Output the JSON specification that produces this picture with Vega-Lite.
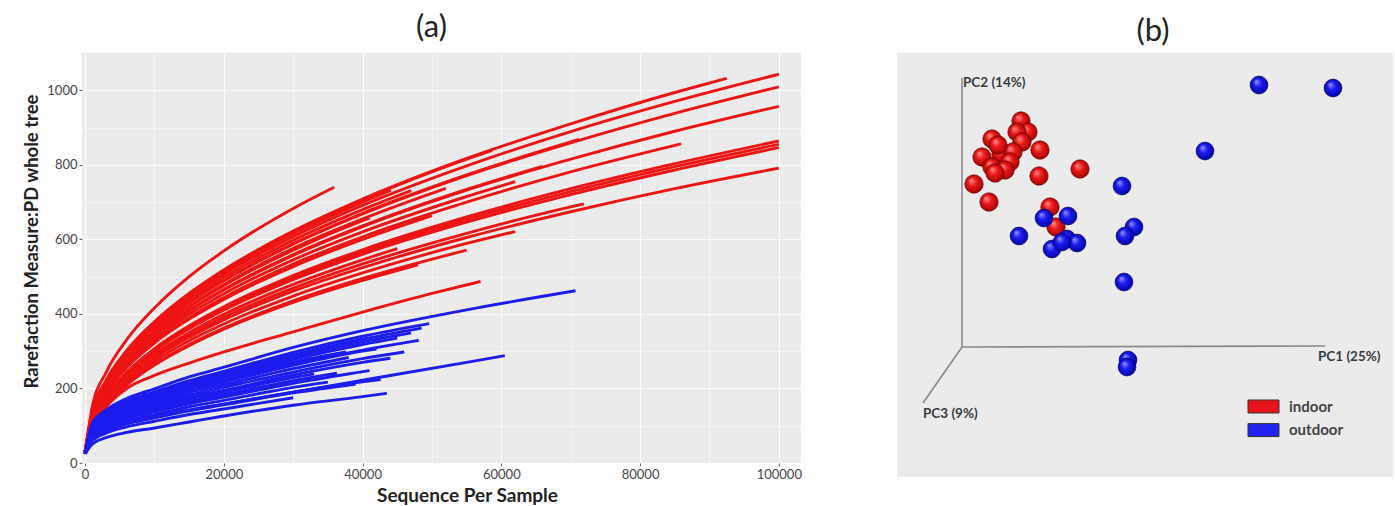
{
  "$schema": "https://vega.github.io/schema/vega-lite/v6.json",
  "padding": {"left": 22, "top": 12, "right": 0, "bottom": 0},
  "spacing": 95,
  "config": {"view": {"stroke": null, "fill": "#EBEBEB"}, "font": "Lato"},
  "resolve": {"scale": {"color": "independent"}, "legend": {"color": "independent"}},
  "datasets": {
    "indoor_curves": [
      {"s":"r01","x":0,"y":30},{"s":"r01","x":1000,"y":148},{"s":"r01","x":3000,"y":242},{"s":"r01","x":6000,"y":331},{"s":"r01","x":10000,"y":416},{"s":"r01","x":15000,"y":500},{"s":"r01","x":20000,"y":569},{"s":"r01","x":30000,"y":683},{"s":"r01","x":35900,"y":740},
      {"s":"r02","x":0,"y":30},{"s":"r02","x":1000,"y":131},{"s":"r02","x":3000,"y":216},{"s":"r02","x":6000,"y":294},{"s":"r02","x":10000,"y":370},{"s":"r02","x":15000,"y":444},{"s":"r02","x":20000,"y":506},{"s":"r02","x":30000,"y":607},{"s":"r02","x":40000,"y":691},{"s":"r02","x":55000,"y":797},{"s":"r02","x":70000,"y":889},{"s":"r02","x":85000,"y":970},{"s":"r02","x":100000,"y":1043},
      {"s":"r03","x":0,"y":30},{"s":"r03","x":1000,"y":127},{"s":"r03","x":3000,"y":208},{"s":"r03","x":6000,"y":285},{"s":"r03","x":10000,"y":358},{"s":"r03","x":15000,"y":430},{"s":"r03","x":20000,"y":489},{"s":"r03","x":30000,"y":587},{"s":"r03","x":40000,"y":668},{"s":"r03","x":55000,"y":771},{"s":"r03","x":70000,"y":859},{"s":"r03","x":85000,"y":938},{"s":"r03","x":100000,"y":1009},
      {"s":"r04","x":0,"y":30},{"s":"r04","x":1000,"y":120},{"s":"r04","x":3000,"y":198},{"s":"r04","x":6000,"y":270},{"s":"r04","x":10000,"y":340},{"s":"r04","x":15000,"y":408},{"s":"r04","x":20000,"y":464},{"s":"r04","x":30000,"y":557},{"s":"r04","x":40000,"y":634},{"s":"r04","x":55000,"y":732},{"s":"r04","x":70000,"y":815},{"s":"r04","x":85000,"y":890},{"s":"r04","x":100000,"y":957},
      {"s":"r05","x":0,"y":30},{"s":"r05","x":1000,"y":135},{"s":"r05","x":3000,"y":221},{"s":"r05","x":6000,"y":302},{"s":"r05","x":10000,"y":379},{"s":"r05","x":15000,"y":455},{"s":"r05","x":20000,"y":518},{"s":"r05","x":30000,"y":622},{"s":"r05","x":40000,"y":708},{"s":"r05","x":55000,"y":817},{"s":"r05","x":70000,"y":910},{"s":"r05","x":85000,"y":994},{"s":"r05","x":92500,"y":1032},
      {"s":"r06","x":0,"y":30},{"s":"r06","x":1000,"y":115},{"s":"r06","x":3000,"y":189},{"s":"r06","x":6000,"y":259},{"s":"r06","x":10000,"y":325},{"s":"r06","x":15000,"y":390},{"s":"r06","x":20000,"y":444},{"s":"r06","x":30000,"y":534},{"s":"r06","x":40000,"y":607},{"s":"r06","x":55000,"y":700},{"s":"r06","x":70000,"y":781},{"s":"r06","x":85900,"y":856},
      {"s":"r07","x":0,"y":30},{"s":"r07","x":1000,"y":127},{"s":"r07","x":3000,"y":209},{"s":"r07","x":6000,"y":285},{"s":"r07","x":10000,"y":359},{"s":"r07","x":15000,"y":431},{"s":"r07","x":20000,"y":490},{"s":"r07","x":30000,"y":589},{"s":"r07","x":40000,"y":670},{"s":"r07","x":55000,"y":773},{"s":"r07","x":71200,"y":868},
      {"s":"r08","x":0,"y":30},{"s":"r08","x":1000,"y":121},{"s":"r08","x":3000,"y":198},{"s":"r08","x":6000,"y":271},{"s":"r08","x":10000,"y":341},{"s":"r08","x":15000,"y":409},{"s":"r08","x":20000,"y":466},{"s":"r08","x":30000,"y":559},{"s":"r08","x":40000,"y":636},{"s":"r08","x":55000,"y":734},{"s":"r08","x":65900,"y":796},
      {"s":"r09","x":0,"y":30},{"s":"r09","x":1000,"y":134},{"s":"r09","x":3000,"y":220},{"s":"r09","x":6000,"y":301},{"s":"r09","x":10000,"y":378},{"s":"r09","x":15000,"y":454},{"s":"r09","x":20000,"y":517},{"s":"r09","x":30000,"y":621},{"s":"r09","x":40000,"y":706},{"s":"r09","x":55000,"y":815},{"s":"r09","x":58700,"y":839},
      {"s":"r10","x":0,"y":30},{"s":"r10","x":1000,"y":133},{"s":"r10","x":3000,"y":218},{"s":"r10","x":6000,"y":298},{"s":"r10","x":10000,"y":375},{"s":"r10","x":15000,"y":450},{"s":"r10","x":20000,"y":512},{"s":"r10","x":30000,"y":615},{"s":"r10","x":40000,"y":700},{"s":"r10","x":44100,"y":732},
      {"s":"r11","x":0,"y":30},{"s":"r11","x":1000,"y":129},{"s":"r11","x":3000,"y":212},{"s":"r11","x":6000,"y":290},{"s":"r11","x":10000,"y":364},{"s":"r11","x":15000,"y":437},{"s":"r11","x":20000,"y":498},{"s":"r11","x":30000,"y":598},{"s":"r11","x":40000,"y":680},{"s":"r11","x":47000,"y":731},
      {"s":"r12","x":0,"y":30},{"s":"r12","x":1000,"y":124},{"s":"r12","x":3000,"y":204},{"s":"r12","x":6000,"y":279},{"s":"r12","x":10000,"y":351},{"s":"r12","x":15000,"y":421},{"s":"r12","x":20000,"y":479},{"s":"r12","x":30000,"y":576},{"s":"r12","x":40000,"y":655},{"s":"r12","x":52000,"y":737},
      {"s":"r13","x":0,"y":30},{"s":"r13","x":1000,"y":118},{"s":"r13","x":3000,"y":193},{"s":"r13","x":6000,"y":264},{"s":"r13","x":10000,"y":332},{"s":"r13","x":15000,"y":399},{"s":"r13","x":20000,"y":454},{"s":"r13","x":30000,"y":545},{"s":"r13","x":40000,"y":620},{"s":"r13","x":55000,"y":715},{"s":"r13","x":62000,"y":755},
      {"s":"r14","x":0,"y":30},{"s":"r14","x":1000,"y":124},{"s":"r14","x":3000,"y":203},{"s":"r14","x":6000,"y":277},{"s":"r14","x":10000,"y":348},{"s":"r14","x":15000,"y":418},{"s":"r14","x":20000,"y":476},{"s":"r14","x":30000,"y":571},{"s":"r14","x":40000,"y":650},{"s":"r14","x":41000,"y":657},
      {"s":"r15","x":0,"y":30},{"s":"r15","x":1000,"y":114},{"s":"r15","x":3000,"y":187},{"s":"r15","x":6000,"y":256},{"s":"r15","x":10000,"y":322},{"s":"r15","x":15000,"y":386},{"s":"r15","x":20000,"y":439},{"s":"r15","x":30000,"y":527},{"s":"r15","x":40000,"y":600},{"s":"r15","x":50000,"y":664},
      {"s":"r16","x":0,"y":30},{"s":"r16","x":1000,"y":108},{"s":"r16","x":3000,"y":177},{"s":"r16","x":6000,"y":241},{"s":"r16","x":10000,"y":303},{"s":"r16","x":15000,"y":364},{"s":"r16","x":20000,"y":414},{"s":"r16","x":30000,"y":498},{"s":"r16","x":40000,"y":566},{"s":"r16","x":55000,"y":653},{"s":"r16","x":70000,"y":728},{"s":"r16","x":85000,"y":795},{"s":"r16","x":100000,"y":855},
      {"s":"r17","x":0,"y":30},{"s":"r17","x":1000,"y":106},{"s":"r17","x":3000,"y":175},{"s":"r17","x":6000,"y":239},{"s":"r17","x":10000,"y":300},{"s":"r17","x":15000,"y":360},{"s":"r17","x":20000,"y":410},{"s":"r17","x":30000,"y":492},{"s":"r17","x":40000,"y":560},{"s":"r17","x":55000,"y":646},{"s":"r17","x":70000,"y":720},{"s":"r17","x":85000,"y":786},{"s":"r17","x":100000,"y":846},
      {"s":"r18","x":0,"y":30},{"s":"r18","x":1000,"y":109},{"s":"r18","x":3000,"y":178},{"s":"r18","x":6000,"y":244},{"s":"r18","x":10000,"y":307},{"s":"r18","x":15000,"y":368},{"s":"r18","x":20000,"y":419},{"s":"r18","x":30000,"y":503},{"s":"r18","x":40000,"y":572},{"s":"r18","x":55000,"y":660},{"s":"r18","x":70000,"y":736},{"s":"r18","x":85000,"y":803},{"s":"r18","x":100000,"y":864},
      {"s":"r19","x":0,"y":30},{"s":"r19","x":1000,"y":100},{"s":"r19","x":3000,"y":163},{"s":"r19","x":6000,"y":223},{"s":"r19","x":10000,"y":281},{"s":"r19","x":15000,"y":337},{"s":"r19","x":20000,"y":384},{"s":"r19","x":30000,"y":461},{"s":"r19","x":40000,"y":524},{"s":"r19","x":55000,"y":605},{"s":"r19","x":70000,"y":674},{"s":"r19","x":85000,"y":736},{"s":"r19","x":100000,"y":791},
      {"s":"r20","x":0,"y":30},{"s":"r20","x":1000,"y":101},{"s":"r20","x":3000,"y":167},{"s":"r20","x":6000,"y":227},{"s":"r20","x":10000,"y":286},{"s":"r20","x":15000,"y":343},{"s":"r20","x":20000,"y":391},{"s":"r20","x":30000,"y":469},{"s":"r20","x":40000,"y":534},{"s":"r20","x":55000,"y":616},{"s":"r20","x":70000,"y":687},{"s":"r20","x":71900,"y":695},
      {"s":"r21","x":0,"y":30},{"s":"r21","x":1000,"y":94},{"s":"r21","x":3000,"y":154},{"s":"r21","x":6000,"y":211},{"s":"r21","x":10000,"y":265},{"s":"r21","x":15000,"y":318},{"s":"r21","x":20000,"y":362},{"s":"r21","x":30000,"y":435},{"s":"r21","x":40000,"y":495},{"s":"r21","x":55000,"y":571},
      {"s":"r22","x":0,"y":30},{"s":"r22","x":1000,"y":97},{"s":"r22","x":3000,"y":159},{"s":"r22","x":6000,"y":217},{"s":"r22","x":10000,"y":273},{"s":"r22","x":15000,"y":328},{"s":"r22","x":20000,"y":373},{"s":"r22","x":30000,"y":448},{"s":"r22","x":40000,"y":510},{"s":"r22","x":55000,"y":589},{"s":"r22","x":62000,"y":621},
      {"s":"r23","x":0,"y":30},{"s":"r23","x":1000,"y":93},{"s":"r23","x":3000,"y":153},{"s":"r23","x":6000,"y":209},{"s":"r23","x":10000,"y":263},{"s":"r23","x":15000,"y":315},{"s":"r23","x":20000,"y":359},{"s":"r23","x":30000,"y":431},{"s":"r23","x":40000,"y":490},{"s":"r23","x":48000,"y":532},
      {"s":"r24","x":0,"y":30},{"s":"r24","x":1000,"y":104},{"s":"r24","x":3000,"y":170},{"s":"r24","x":6000,"y":232},{"s":"r24","x":10000,"y":292},{"s":"r24","x":15000,"y":350},{"s":"r24","x":20000,"y":399},{"s":"r24","x":30000,"y":479},{"s":"r24","x":40000,"y":545},{"s":"r24","x":45000,"y":575},
      {"s":"r25","x":0,"y":30},{"s":"r25","x":1000,"y":95},{"s":"r25","x":3000,"y":150},{"s":"r25","x":6000,"y":200},{"s":"r25","x":10000,"y":235},{"s":"r25","x":15000,"y":268},{"s":"r25","x":20000,"y":298},{"s":"r25","x":30000,"y":352},{"s":"r25","x":40000,"y":405},{"s":"r25","x":50000,"y":455},{"s":"r25","x":57000,"y":487}
    ],
    "outdoor_curves": [
      {"s":"b01","x":0,"y":25},{"s":"b01","x":1000,"y":105},{"s":"b01","x":3000,"y":142},{"s":"b01","x":6000,"y":173},{"s":"b01","x":10000,"y":199},{"s":"b01","x":15000,"y":231},{"s":"b01","x":20000,"y":257},{"s":"b01","x":30000,"y":310},{"s":"b01","x":40000,"y":355},{"s":"b01","x":55000,"y":411},{"s":"b01","x":70700,"y":462},
      {"s":"b02","x":0,"y":25},{"s":"b02","x":1000,"y":101},{"s":"b02","x":3000,"y":136},{"s":"b02","x":6000,"y":166},{"s":"b02","x":10000,"y":191},{"s":"b02","x":15000,"y":221},{"s":"b02","x":20000,"y":246},{"s":"b02","x":30000,"y":297},{"s":"b02","x":40000,"y":340},{"s":"b02","x":49600,"y":374},
      {"s":"b03","x":0,"y":25},{"s":"b03","x":1000,"y":98},{"s":"b03","x":3000,"y":133},{"s":"b03","x":6000,"y":162},{"s":"b03","x":10000,"y":186},{"s":"b03","x":15000,"y":216},{"s":"b03","x":20000,"y":240},{"s":"b03","x":30000,"y":290},{"s":"b03","x":40000,"y":332},{"s":"b03","x":48500,"y":362},
      {"s":"b04","x":0,"y":25},{"s":"b04","x":1000,"y":96},{"s":"b04","x":3000,"y":130},{"s":"b04","x":6000,"y":158},{"s":"b04","x":10000,"y":182},{"s":"b04","x":15000,"y":212},{"s":"b04","x":20000,"y":235},{"s":"b04","x":30000,"y":284},{"s":"b04","x":40000,"y":325},{"s":"b04","x":47000,"y":349},
      {"s":"b05","x":0,"y":25},{"s":"b05","x":1000,"y":94},{"s":"b05","x":3000,"y":127},{"s":"b05","x":6000,"y":155},{"s":"b05","x":10000,"y":178},{"s":"b05","x":15000,"y":207},{"s":"b05","x":20000,"y":230},{"s":"b05","x":30000,"y":278},{"s":"b05","x":40000,"y":318},{"s":"b05","x":45000,"y":335},
      {"s":"b06","x":0,"y":25},{"s":"b06","x":1000,"y":90},{"s":"b06","x":3000,"y":121},{"s":"b06","x":6000,"y":148},{"s":"b06","x":10000,"y":170},{"s":"b06","x":15000,"y":197},{"s":"b06","x":20000,"y":219},{"s":"b06","x":30000,"y":265},{"s":"b06","x":40000,"y":303},{"s":"b06","x":48100,"y":329},
      {"s":"b07","x":0,"y":25},{"s":"b07","x":1000,"y":83},{"s":"b07","x":3000,"y":112},{"s":"b07","x":6000,"y":136},{"s":"b07","x":10000,"y":157},{"s":"b07","x":15000,"y":182},{"s":"b07","x":20000,"y":203},{"s":"b07","x":30000,"y":244},{"s":"b07","x":40000,"y":280},{"s":"b07","x":46000,"y":298},
      {"s":"b08","x":0,"y":25},{"s":"b08","x":1000,"y":92},{"s":"b08","x":3000,"y":124},{"s":"b08","x":6000,"y":151},{"s":"b08","x":10000,"y":174},{"s":"b08","x":15000,"y":202},{"s":"b08","x":20000,"y":224},{"s":"b08","x":30000,"y":271},{"s":"b08","x":37600,"y":298},
      {"s":"b09","x":0,"y":25},{"s":"b09","x":1000,"y":75},{"s":"b09","x":3000,"y":101},{"s":"b09","x":6000,"y":123},{"s":"b09","x":10000,"y":142},{"s":"b09","x":15000,"y":165},{"s":"b09","x":20000,"y":183},{"s":"b09","x":30000,"y":221},{"s":"b09","x":36300,"y":241},
      {"s":"b10","x":0,"y":25},{"s":"b10","x":1000,"y":65},{"s":"b10","x":3000,"y":87},{"s":"b10","x":6000,"y":106},{"s":"b10","x":10000,"y":122},{"s":"b10","x":15000,"y":142},{"s":"b10","x":20000,"y":158},{"s":"b10","x":30000,"y":190},{"s":"b10","x":40000,"y":218},{"s":"b10","x":42600,"y":224},
      {"s":"b11","x":0,"y":25},{"s":"b11","x":1000,"y":50},{"s":"b11","x":3000,"y":68},{"s":"b11","x":6000,"y":82},{"s":"b11","x":10000,"y":94},{"s":"b11","x":15000,"y":110},{"s":"b11","x":20000,"y":126},{"s":"b11","x":30000,"y":155},{"s":"b11","x":40000,"y":178},{"s":"b11","x":43500,"y":187},
      {"s":"b12","x":0,"y":25},{"s":"b12","x":1000,"y":62},{"s":"b12","x":3000,"y":88},{"s":"b12","x":6000,"y":108},{"s":"b12","x":10000,"y":125},{"s":"b12","x":15000,"y":142},{"s":"b12","x":20000,"y":158},{"s":"b12","x":30000,"y":190},{"s":"b12","x":40000,"y":222},{"s":"b12","x":55000,"y":270},{"s":"b12","x":60500,"y":288},
      {"s":"b13","x":0,"y":25},{"s":"b13","x":1000,"y":86},{"s":"b13","x":3000,"y":116},{"s":"b13","x":6000,"y":141},{"s":"b13","x":10000,"y":163},{"s":"b13","x":15000,"y":189},{"s":"b13","x":20000,"y":210},{"s":"b13","x":30000,"y":253},{"s":"b13","x":38000,"y":283},
      {"s":"b14","x":0,"y":25},{"s":"b14","x":1000,"y":80},{"s":"b14","x":3000,"y":108},{"s":"b14","x":6000,"y":131},{"s":"b14","x":10000,"y":151},{"s":"b14","x":15000,"y":176},{"s":"b14","x":20000,"y":195},{"s":"b14","x":30000,"y":236},{"s":"b14","x":40000,"y":270},{"s":"b14","x":44000,"y":281},
      {"s":"b15","x":0,"y":25},{"s":"b15","x":1000,"y":78},{"s":"b15","x":3000,"y":105},{"s":"b15","x":6000,"y":128},{"s":"b15","x":10000,"y":147},{"s":"b15","x":15000,"y":171},{"s":"b15","x":20000,"y":190},{"s":"b15","x":30000,"y":229},{"s":"b15","x":33000,"y":239},
      {"s":"b16","x":0,"y":25},{"s":"b16","x":1000,"y":73},{"s":"b16","x":3000,"y":98},{"s":"b16","x":6000,"y":119},{"s":"b16","x":10000,"y":137},{"s":"b16","x":15000,"y":159},{"s":"b16","x":20000,"y":177},{"s":"b16","x":30000,"y":214},{"s":"b16","x":40000,"y":245},{"s":"b16","x":41000,"y":248},
      {"s":"b17","x":0,"y":25},{"s":"b17","x":1000,"y":69},{"s":"b17","x":3000,"y":93},{"s":"b17","x":6000,"y":113},{"s":"b17","x":10000,"y":130},{"s":"b17","x":15000,"y":151},{"s":"b17","x":20000,"y":168},{"s":"b17","x":30000,"y":203},{"s":"b17","x":35000,"y":217},
      {"s":"b18","x":0,"y":25},{"s":"b18","x":1000,"y":59},{"s":"b18","x":3000,"y":80},{"s":"b18","x":6000,"y":97},{"s":"b18","x":10000,"y":112},{"s":"b18","x":15000,"y":130},{"s":"b18","x":20000,"y":145},{"s":"b18","x":30000,"y":175},
      {"s":"b19","x":0,"y":25},{"s":"b19","x":1000,"y":64},{"s":"b19","x":3000,"y":86},{"s":"b19","x":6000,"y":105},{"s":"b19","x":10000,"y":121},{"s":"b19","x":15000,"y":140},{"s":"b19","x":20000,"y":156},{"s":"b19","x":30000,"y":188},{"s":"b19","x":39000,"y":212},
      {"s":"b20","x":0,"y":25},{"s":"b20","x":1000,"y":89},{"s":"b20","x":3000,"y":120},{"s":"b20","x":6000,"y":146},{"s":"b20","x":10000,"y":168},{"s":"b20","x":15000,"y":195},{"s":"b20","x":20000,"y":217},{"s":"b20","x":30000,"y":262},{"s":"b20","x":40000,"y":300},{"s":"b20","x":42000,"y":306}
    ],
    "pcoa": [
      {"g":"indoor","u":124,"v":356},{"g":"indoor","u":131,"v":345},{"g":"indoor","u":120,"v":345},{"g":"indoor","u":95,"v":338},{"g":"indoor","u":125,"v":335},{"g":"indoor","u":143,"v":327},{"g":"indoor","u":85,"v":320},{"g":"indoor","u":104,"v":323},{"g":"indoor","u":116,"v":325},{"g":"indoor","u":113,"v":315},{"g":"indoor","u":95,"v":310},{"g":"indoor","u":108,"v":307},{"g":"indoor","u":98,"v":304},{"g":"indoor","u":142,"v":301},{"g":"indoor","u":183,"v":308},{"g":"indoor","u":77,"v":293},{"g":"indoor","u":92,"v":275},{"g":"indoor","u":153,"v":270},{"g":"indoor","u":159,"v":250},{"g":"indoor","u":101,"v":332},
      {"g":"outdoor","u":362,"v":392},{"g":"outdoor","u":436,"v":389},{"g":"outdoor","u":308,"v":326},{"g":"outdoor","u":225,"v":291},{"g":"outdoor","u":237,"v":250},{"g":"outdoor","u":228,"v":241},{"g":"outdoor","u":227,"v":195},{"g":"outdoor","u":231,"v":117},{"g":"outdoor","u":230,"v":110},{"g":"outdoor","u":171,"v":261},{"g":"outdoor","u":147,"v":259},{"g":"outdoor","u":122,"v":241},{"g":"outdoor","u":155,"v":228},{"g":"outdoor","u":170,"v":238},{"g":"outdoor","u":180,"v":234},{"g":"outdoor","u":165,"v":235}
    ],
    "axes3d": [
      {"axis":"PC2","u":65,"v":130,"u2":65,"v2":399},
      {"axis":"PC1","u":65,"v":130,"u2":428,"v2":131},
      {"axis":"PC3","u":65,"v":130,"u2":26,"v2":74}
    ],
    "axislabels": [
      {"t":"PC2 (14%)","u":66,"v":394},
      {"t":"PC1 (25%)","u":421,"v":120},
      {"t":"PC3 (9%)","u":26,"v":63}
    ]
  },
  "hconcat": [
    {
      "width": 719,
      "height": 410,
      "title": {"text": "(a)", "fontSize": 31, "fontWeight": "normal", "font": "Lato", "color": "#222222", "anchor": "middle", "frame": "group", "offset": 9, "dx": -10},
      "encoding": {
        "x": {"field": "x", "type": "quantitative",
          "scale": {"domain": [-450, 103200], "nice": false, "zero": false},
          "axis": {"title": "Sequence Per Sample", "values": [0,10000,20000,30000,40000,50000,60000,70000,80000,90000,100000],
            "format": "d", "labelExpr": "datum.value % 20000 === 0 ? datum.label : ''",
            "domain": false, "grid": true, "gridColor": "#ffffff",
            "gridOpacity": {"condition": {"test": "datum.value % 20000 === 0", "value": 0.9}, "value": 0.45},
            "tickSize": 3, "tickColor": "#666666",
            "tickOpacity": {"condition": {"test": "datum.value % 20000 === 0", "value": 1}, "value": 0},
            "labelFontSize": 13, "labelColor": "#444444", "labelPadding": 2, "labelFlush": false,
            "titleFontSize": 19, "titleFontWeight": "bold", "titleColor": "#222222", "titleX": 385, "titlePadding": 5}},
        "y": {"field": "y", "type": "quantitative",
          "scale": {"domain": [0, 1100], "nice": false, "zero": false},
          "axis": {"title": "Rarefaction Measure:PD whole tree", "values": [0,100,200,300,400,500,600,700,800,900,1000],
            "format": "d", "labelExpr": "datum.value % 200 === 0 ? datum.label : ''",
            "domain": false, "grid": true, "gridColor": "#ffffff",
            "gridOpacity": {"condition": {"test": "datum.value % 200 === 0", "value": 0.9}, "value": 0.45},
            "tickSize": 3, "tickColor": "#666666",
            "tickOpacity": {"condition": {"test": "datum.value % 200 === 0", "value": 1}, "value": 0},
            "labelFontSize": 13, "labelColor": "#444444", "labelPadding": 2, "labelFlush": false,
            "titleFontSize": 18.5, "titleFontWeight": "bold", "titleColor": "#222222",
            "titleX": -51, "titleY": 188, "titleAngle": -90, "titleAlign": "center", "titleBaseline": "middle"}}
      },
      "layer": [
        {"data": {"name": "indoor_curves"},
         "mark": {"type": "line", "color": "#ee1414", "strokeWidth": 2.9, "interpolate": "monotone"},
         "encoding": {"detail": {"field": "s", "type": "nominal"}}},
        {"data": {"name": "outdoor_curves"},
         "mark": {"type": "line", "color": "#1c1cee", "strokeWidth": 2.9, "interpolate": "monotone"},
         "encoding": {"detail": {"field": "s", "type": "nominal"}}}
      ]
    },
    {
      "width": 496,
      "height": 424,
      "title": {"text": "(b)", "fontSize": 31, "fontWeight": "normal", "font": "Lato", "color": "#222222", "anchor": "middle", "frame": "group", "offset": 5, "dx": 8},
      "encoding": {
        "x": {"field": "u", "type": "quantitative", "scale": {"domain": [0, 496], "nice": false, "zero": false}, "axis": null},
        "y": {"field": "v", "type": "quantitative", "scale": {"domain": [0, 424], "nice": false, "zero": false}, "axis": null}
      },
      "layer": [
        {"data": {"name": "axes3d"},
         "mark": {"type": "rule", "color": "#8a8a8a", "strokeWidth": 1.6},
         "encoding": {"x2": {"field": "u2"}, "y2": {"field": "v2"}}},
        {"data": {"name": "axislabels"},
         "mark": {"type": "text", "align": "left", "baseline": "middle", "fontSize": 13.5, "fontWeight": "bold", "font": "Lato", "color": "#3a3a3a"},
         "encoding": {"text": {"field": "t"}}},
        {"data": {"name": "pcoa"},
         "transform": [{"filter": "datum.g === 'indoor'"}],
         "mark": {"type": "point", "filled": true, "size": 340, "opacity": 1, "stroke": "#5a0000", "strokeWidth": 0.6,
           "color": {"gradient": "radial", "x1": 0.35, "y1": 0.3, "r1": 0.02, "x2": 0.5, "y2": 0.5, "r2": 0.55,
             "stops": [{"offset": 0, "color": "#ff8a8a"}, {"offset": 0.4, "color": "#ee1a1a"}, {"offset": 1, "color": "#9a0000"}]}}},
        {"data": {"name": "pcoa"},
         "transform": [{"filter": "datum.g === 'outdoor'"}],
         "mark": {"type": "point", "filled": true, "size": 320, "opacity": 1, "stroke": "#00005a", "strokeWidth": 0.6,
           "color": {"gradient": "radial", "x1": 0.35, "y1": 0.3, "r1": 0.02, "x2": 0.5, "y2": 0.5, "r2": 0.55,
             "stops": [{"offset": 0, "color": "#8a8aff"}, {"offset": 0.4, "color": "#1c1cf0"}, {"offset": 1, "color": "#00009a"}]}}},
        {"data": {"name": "pcoa"},
         "mark": {"type": "point", "filled": true, "opacity": 0, "size": 1},
         "encoding": {"color": {"field": "g", "type": "nominal",
           "scale": {"domain": ["indoor", "outdoor"], "range": ["#e8141c", "#2323f0"]},
           "legend": {"title": null, "orient": "none", "legendX": 356, "legendY": 343, "padding": 0,
             "symbolType": "M-1.6,-0.67H1.6V0.67H-1.6Z", "symbolSize": 375, "symbolOpacity": 1,
             "symbolStrokeColor": "#333333", "symbolStrokeWidth": 1, "labelOffset": 15, "rowPadding": 4.6,
             "labelFontSize": 15, "labelFontWeight": "bold", "labelFont": "Lato", "labelColor": "#444444"}}}}
      ]
    }
  ]
}
